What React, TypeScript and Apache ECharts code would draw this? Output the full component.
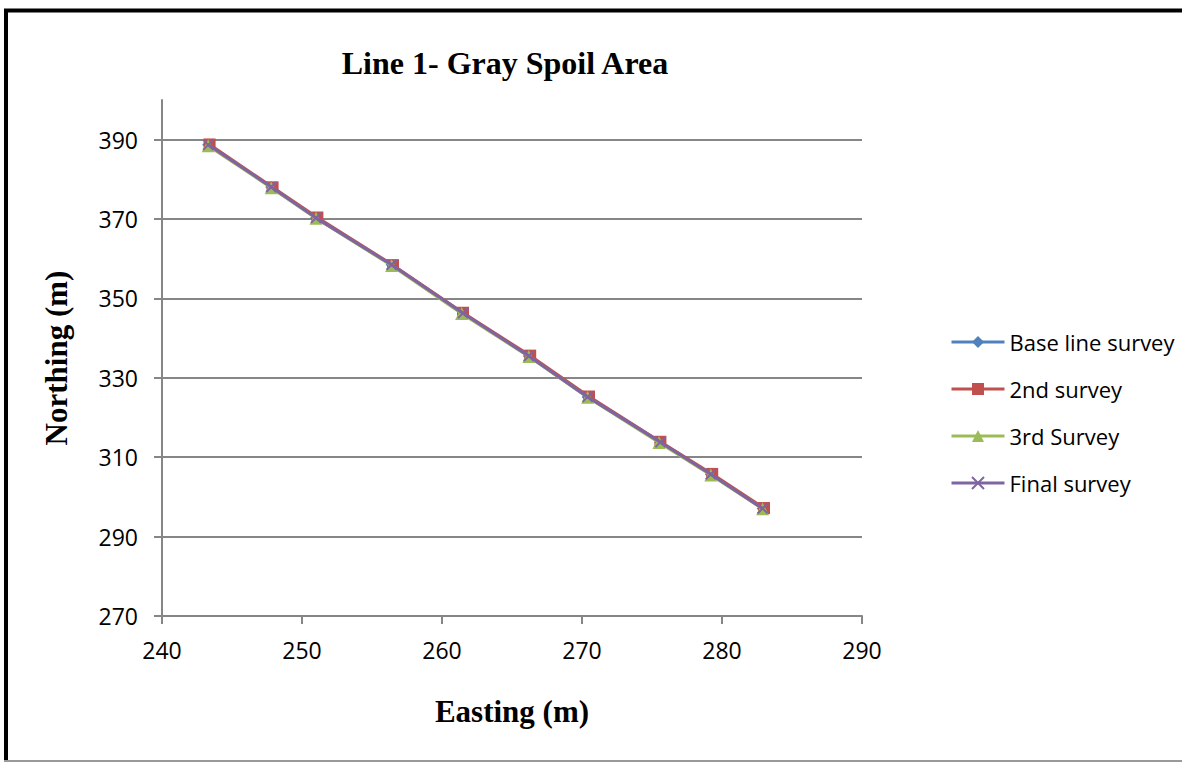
import React, { useEffect, useRef } from "react";
import * as echarts from "echarts";

const seriesNames = ["Base line survey", "2nd survey", "3rd Survey", "Final survey"];
const seriesColors = ["#4F81BD", "#C0504D", "#9BBB59", "#8064A2"];

const baseEasting = [243.3, 247.8, 251.0, 256.4, 261.5, 266.2, 270.4, 275.6, 279.2, 282.9];
const baseNorthing = [388.7, 378.1, 370.3, 358.5, 346.3, 335.5, 325.2, 313.8, 305.7, 297.1];

const secondEasting = [243.4, 247.9, 251.1, 256.5, 261.5, 266.3, 270.5, 275.6, 279.3, 283.0];
const secondNorthing = [388.8, 378.0, 370.4, 358.4, 346.4, 335.6, 325.3, 313.9, 305.8, 297.2];

const thirdEasting = [243.3, 247.8, 251.0, 256.4, 261.4, 266.2, 270.4, 275.5, 279.2, 282.9];
const thirdNorthing = [388.5, 377.9, 370.2, 358.3, 346.2, 335.4, 325.1, 313.7, 305.5, 297.0];

const finalEasting = [243.3, 247.8, 251.0, 256.4, 261.5, 266.2, 270.4, 275.6, 279.2, 282.9];
const finalNorthing = [388.7, 378.1, 370.3, 358.5, 346.3, 335.5, 325.2, 313.8, 305.7, 297.1];

const yTickValues = [270, 290, 310, 330, 350, 370, 390];
const xTickValues = [240, 250, 260, 270, 280, 290];

const symbols = [
  "diamond",
  "rect",
  "triangle",
  "path://M0,0L10,10M10,0L0,10",
];
const symbolSizes = [12, 12, 13, 10];

const toPairs = (xs: number[], ys: number[]) => xs.map((x, i) => [x, ys[i]]);

export default function App() {
  const ref = useRef<HTMLDivElement>(null);

  useEffect(() => {
    if (!ref.current) return;
    const chart = echarts.init(ref.current, null, { renderer: "svg" });
    const datasets = [
      toPairs(baseEasting, baseNorthing),
      toPairs(secondEasting, secondNorthing),
      toPairs(thirdEasting, thirdNorthing),
      toPairs(finalEasting, finalNorthing),
    ];
    const axisGray = "#868686";
    const tickFont = { fontFamily: "'Open Sans', sans-serif", fontSize: 23, color: "#000" };
    chart.setOption({
      animation: false,
      backgroundColor: "#fff",
      title: {
        text: "Line 1- Gray Spoil Area",
        left: 500,
        textAlign: "center",
        top: 42,
        textStyle: {
          fontFamily: "'Liberation Serif', 'Times New Roman', serif",
          fontWeight: "bold",
          fontSize: 32,
          color: "#000",
        },
      },
      grid: { left: 162, right: 320, top: 100, bottom: 146 },
      xAxis: {
        type: "value",
        min: 240,
        max: 290,
        interval: 10,
        name: "Easting (m)",
        nameLocation: "middle",
        nameGap: 80,
        nameTextStyle: {
          fontFamily: "'Liberation Serif', 'Times New Roman', serif",
          fontWeight: "bold",
          fontSize: 31,
          color: "#000",
        },
        axisLine: { show: true, lineStyle: { color: axisGray, width: 2 } },
        axisTick: { show: true, length: 8, inside: false, lineStyle: { color: axisGray, width: 2 }, customValues: xTickValues },
        axisLabel: { ...tickFont, margin: 22, customValues: xTickValues },
        splitLine: { show: false },
      },
      yAxis: {
        type: "value",
        min: 270,
        max: 400,
        interval: 20,
        name: "Northing (m)",
        nameLocation: "middle",
        nameRotate: 90,
        nameGap: 90,
        nameTextStyle: {
          fontFamily: "'Liberation Serif', 'Times New Roman', serif",
          fontWeight: "bold",
          fontSize: 31,
          color: "#000",
        },
        axisLine: { show: true, lineStyle: { color: axisGray, width: 2 } },
        axisTick: { show: true, length: 8, inside: false, lineStyle: { color: axisGray, width: 2 }, customValues: yTickValues },
        axisLabel: { ...tickFont, margin: 24, customValues: yTickValues },
        splitLine: { show: true, showMaxLine: true, showMinLine: false, lineStyle: { color: axisGray, width: 2 } },
      },
      legend: {
        orient: "vertical",
        left: 945,
        top: 324,
        itemWidth: 53,
        itemHeight: 15,
        itemGap: 21,
        lineStyle: { width: 3 },
        textStyle: { fontFamily: "'Open Sans', sans-serif", fontSize: 22, color: "#000", lineHeight: 26 },
        data: seriesNames,
      },
      series: seriesNames.map((name, i) => ({
        name,
        type: "line",
        data: datasets[i],
        symbol: symbols[i],
        symbolSize: symbolSizes[i],
        showSymbol: true,
        color: seriesColors[i],
        lineStyle: { color: seriesColors[i], width: 3 },
        itemStyle:
          i === 3
            ? { color: seriesColors[i], borderColor: seriesColors[i], borderWidth: 2 }
            : { color: seriesColors[i], borderWidth: 0 },
        z: 2 + i,
      })),
      graphic: [
        { type: "line", shape: { x1: 4, y1: 10.5, x2: 1182, y2: 10.5 }, style: { stroke: "#000", lineWidth: 4 }, silent: true },
        { type: "line", shape: { x1: 6, y1: 9, x2: 6, y2: 762 }, style: { stroke: "#000", lineWidth: 4 }, silent: true },
        { type: "line", shape: { x1: 4, y1: 761, x2: 1182, y2: 761 }, style: { stroke: "#999", lineWidth: 2 }, silent: true },
      ],
    });
    return () => chart.dispose();
  }, []);

  return (
    <div
      ref={ref}
      style={{ position: "fixed", left: 0, top: 0, width: 1182, height: 762 }}
    />
  );
}
